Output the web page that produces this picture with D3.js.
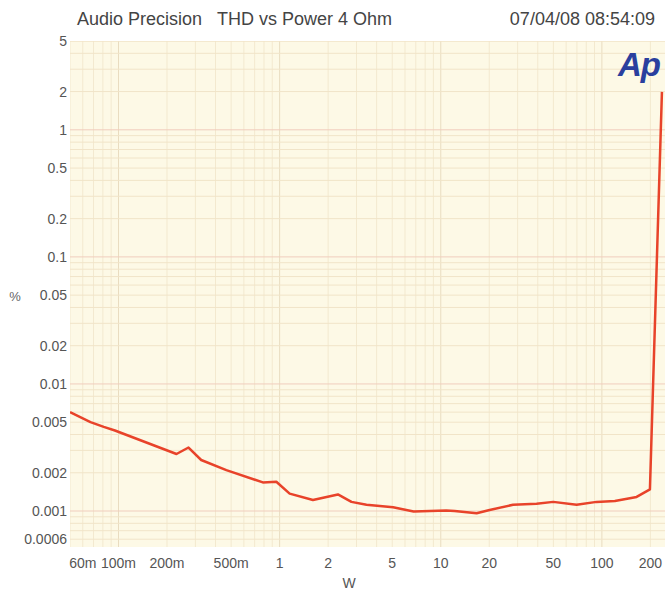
<!DOCTYPE html>
<html><head><meta charset="utf-8">
<script src="https://cdn.jsdelivr.net/npm/d3@7"></script>
<style>body{margin:0;background:#fff}svg{display:block}text{font-family:"Liberation Sans",Arial,sans-serif}</style>
</head><body><svg id="c" width="665" height="592"></svg>
<script>
const powerW = [0.05,0.067,0.081,0.095,0.229,0.272,0.326,0.467,0.787,0.954,1.154,1.61,2.30,2.79,3.46,5.06,6.79,10.8,12.2,16.7,20.1,28.1,39.3,49.9,69.7,92.7,120.4,164.3,198.7,235.9];
const thdPct = [0.0060,0.0050,0.00459,0.00430,0.00281,0.00316,0.00252,0.00210,0.00168,0.00170,0.00137,0.00122,0.00135,0.00118,0.00112,0.00107,0.000991,0.00101,0.00100,0.000961,0.00102,0.00112,0.00114,0.00118,0.00112,0.00118,0.00120,0.00129,0.00148,1.99];
const xTicks = [0.06,0.1,0.2,0.5,1,2,5,10,20,50,100,200];
const xTickLabels = ["60m","100m","200m","500m","1","2","5","10","20","50","100","200"];
const yTicks = [5,2,1,0.5,0.2,0.1,0.05,0.02,0.01,0.005,0.002,0.001,0.0006];
const yTickLabels = ["5","2","1","0.5","0.2","0.1","0.05","0.02","0.01","0.005","0.002","0.001","0.0006"];
const titleLeft = "Audio Precision";
const titleRight = "THD vs Power 4 Ohm";
const stamp = "07/04/08 08:54:09";

const svg = d3.select("#c");
const L = 70, R = 666, T = 41, B = 547;
const x = d3.scaleLog().domain([0.05, 250]).range([L, R]);
const y = d3.scaleLog().domain([0.0006, 5]).range([539.2, 41]);

svg.append("rect").attr("x", L).attr("y", T).attr("width", R - L).attr("height", B - T).attr("fill", "#fdf9e6");

svg.append("clipPath").attr("id", "pc").append("rect").attr("x", L).attr("y", T).attr("width", R - L).attr("height", B - T);
const g = svg.append("g").attr("clip-path", "url(#pc)");

const xg = [], yg = [];
for (let e = -2; e <= 2; e++) for (let m = 1; m <= 9; m++) { const v = m * Math.pow(10, e); if (v >= 0.05 && v <= 250) xg.push(v); }
for (let e = -4; e <= 0; e++) for (let m = 1; m <= 9; m++) { const v = m * Math.pow(10, e); if (v >= 0.0005 && v <= 5) yg.push(v); }
yg.push(5);
const isDec = d => Math.abs(Math.log10(d) - Math.round(Math.log10(d))) < 1e-6;

g.selectAll(".vg").data(xg).join("line")
  .attr("x1", d => x(d)).attr("x2", d => x(d)).attr("y1", T).attr("y2", B)
  .attr("stroke", d => isDec(d) ? "#e9dcc0" : "#f3e9cf").attr("stroke-width", 1);
g.selectAll(".hg").data(yg).join("line")
  .attr("x1", L).attr("x2", R).attr("y1", d => y(d)).attr("y2", d => y(d))
  .attr("stroke", d => isDec(d) ? "#f0cdbd" : "#f1e4c8").attr("stroke-width", 1);

const line = d3.line().x((d, i) => x(powerW[i])).y((d, i) => y(thdPct[i]));
g.append("path").datum(thdPct).attr("d", line).attr("fill", "none")
  .attr("stroke", "#e8432a").attr("stroke-width", 2.5).attr("stroke-linejoin", "round");

const yl = svg.append("g").attr("fill", "#555").attr("font-size", 14).attr("text-anchor", "end");
yl.selectAll("text").data(yTicks).join("text")
  .attr("x", 67).attr("y", d => y(d) + 5).text((d, i) => yTickLabels[i]);
const xl = svg.append("g").attr("fill", "#555").attr("font-size", 14).attr("text-anchor", "middle");
xl.selectAll("text").data(xTicks).join("text")
  .attr("x", d => x(d)).attr("y", 568).text((d, i) => xTickLabels[i]);

svg.append("text").attr("x", 349).attr("y", 588).attr("text-anchor", "middle").attr("fill", "#555").attr("font-size", 14).text("W");
svg.append("text").attr("x", 15).attr("y", 301).attr("text-anchor", "middle").attr("fill", "#666").attr("font-size", 13).text("%");

svg.append("text").attr("x", 77).attr("y", 25).attr("fill", "#444").attr("font-size", 18).text(titleLeft);
svg.append("text").attr("x", 217).attr("y", 25).attr("fill", "#444").attr("font-size", 18).text(titleRight);
svg.append("text").attr("x", 655).attr("y", 25).attr("text-anchor", "end").attr("fill", "#444").attr("font-size", 18).text(stamp);

svg.append("text").attr("x", 618).attr("y", 76).attr("fill", "#2a3f9e").attr("font-size", 33)
  .attr("font-weight", "bold").attr("font-style", "italic").attr("letter-spacing", -1).text("Ap");
</script></body></html>
